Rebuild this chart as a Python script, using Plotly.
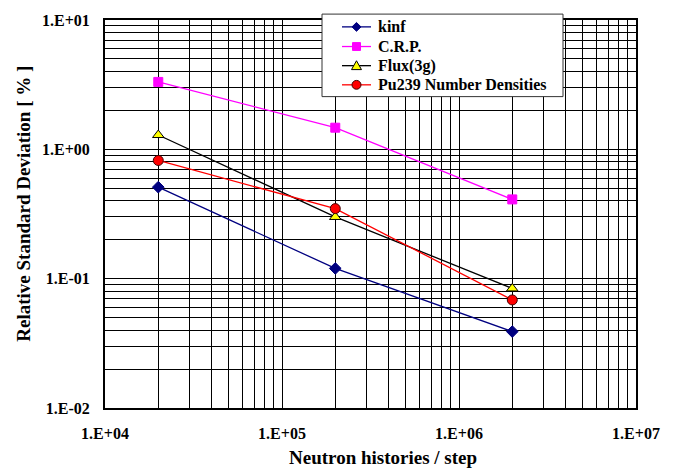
import plotly.graph_objects as go

# Neutron histories per step
histories = [2e4, 2e5, 2e6]

# Relative standard deviation [%] of each quantity
kinf = [0.51, 0.12, 0.039]
crp = [3.32, 1.47, 0.41]
flux_3g = [1.29, 0.30, 0.084]
pu239 = [0.82, 0.348, 0.0685]

series_names = ["kinf", "C.R.P.", "Flux(3g)", "Pu239 Number Densities"]

x_decades = [1e4, 1e5, 1e6, 1e7]
x_labels = ["1.E+04", "1.E+05", "1.E+06", "1.E+07"]
y_decades = [1e-2, 1e-1, 1e0, 1e1]
y_labels = ["1.E-02", "1.E-01", "1.E+00", "1.E+01"]

FONT = "Times New Roman, Liberation Serif, serif"

# plot area in pixels (figure is 675 x 474)
W, H = 675, 474
PL, PR, PT, PB = 105, 636, 13, 408


def px(x):
    return (x - PL) / (PR - PL)


def py(y):
    return (PB - y) / (PB - PT)


def log_grid(decades):
    vals, text = [], []
    for i, d in enumerate(decades):
        for m in range(1, 10):
            if i == len(decades) - 1 and m > 1:
                break
            vals.append(d * m)
            text.append("")
    return vals, text


xv, xt = log_grid(x_decades)
for d, lab in zip(x_decades, x_labels):
    xt[xv.index(d)] = lab
yv, yt = log_grid(y_decades)
for d, lab in zip(y_decades, y_labels):
    yt[yv.index(d)] = lab

styles = [
    dict(line="#000080", symbol="diamond", size=9, fill="#000080", edge="#000080"),
    dict(line="#FF00FF", symbol="square", size=9, fill="#FF00FF", edge="#FF00FF"),
    dict(line="#000000", symbol="triangle-up", size=10, fill="#FFFF00", edge="#000000"),
    dict(line="#FF0000", symbol="circle", size=10, fill="#FF0000", edge="#400000"),
]

fig = go.Figure()
for name, vals, st in zip(series_names, [kinf, crp, flux_3g, pu239], styles):
    fig.add_trace(go.Scatter(
        x=histories, y=vals, name=name, mode="lines+markers", showlegend=False,
        line=dict(color=st["line"], width=1.3),
        marker=dict(symbol=st["symbol"], size=st["size"], color=st["fill"],
                    line=dict(color=st["edge"], width=1)),
    ))

axis_common = dict(
    type="log", showgrid=True, gridcolor="#000000", gridwidth=1,
    showline=True, linecolor="#000000", linewidth=2, mirror=True,
    zeroline=False, ticks="",
    tickfont=dict(family=FONT, size=16, color="#000000", weight="bold"),
)
fig.update_xaxes(range=[4, 7], tickmode="array", tickvals=xv, ticktext=xt,
                 ticklabelstandoff=10, **axis_common)
fig.update_yaxes(range=[-2, 1], tickmode="array", tickvals=yv, ticktext=yt,
                 ticklabelstandoff=10, **axis_common)

fig.add_annotation(text="Neutron histories / step", xref="paper", yref="paper",
                   x=px(383), y=py(458), showarrow=False,
                   xanchor="center", yanchor="middle",
                   font=dict(family=FONT, size=19, color="#000000", weight="bold"))
fig.add_annotation(text="Relative Standard Deviation [ % ]", xref="paper", yref="paper",
                   x=px(24), y=py(200), showarrow=False,
                   textangle=-90, xanchor="center", yanchor="middle",
                   font=dict(family=FONT, size=19, color="#000000", weight="bold"))

# legend panel: framed box with a key line, key marker and label per series
shapes = [dict(type="rect", xref="paper", yref="paper", layer="above",
               x0=px(322), x1=px(563), y0=py(91), y1=py(7),
               fillcolor="#FFFFFF", line=dict(color="#333333", width=1))]
row_y = [20, 40, 59.5, 79]
kx0, kx1, kc = 342, 371, 356.5


def path(points):
    return "M " + " L ".join(f"{px(a):.5f},{py(b):.5f}" for a, b in points) + " Z"


for name, st, y in zip(series_names, styles, row_y):
    shapes.append(dict(type="line", xref="paper", yref="paper", layer="above",
                       x0=px(kx0), x1=px(kx1), y0=py(y), y1=py(y),
                       line=dict(color=st["line"], width=1.3)))
    if st["symbol"] == "diamond":
        pts = [(kc, y - 4.5), (kc + 4.5, y), (kc, y + 4.5), (kc - 4.5, y)]
        shapes.append(dict(type="path", xref="paper", yref="paper", layer="above",
                           path=path(pts), fillcolor=st["fill"],
                           line=dict(color=st["edge"], width=1)))
    elif st["symbol"] == "square":
        shapes.append(dict(type="rect", xref="paper", yref="paper", layer="above",
                           x0=px(kc - 4), x1=px(kc + 4), y0=py(y + 4), y1=py(y - 4),
                           fillcolor=st["fill"], line=dict(color=st["edge"], width=1)))
    elif st["symbol"] == "triangle-up":
        pts = [(kc, y - 5), (kc + 5, y + 4), (kc - 5, y + 4)]
        shapes.append(dict(type="path", xref="paper", yref="paper", layer="above",
                           path=path(pts), fillcolor=st["fill"],
                           line=dict(color=st["edge"], width=1)))
    else:
        shapes.append(dict(type="circle", xref="paper", yref="paper", layer="above",
                           x0=px(kc - 4.5), x1=px(kc + 4.5), y0=py(y + 4.5), y1=py(y - 4.5),
                           fillcolor=st["fill"], line=dict(color=st["edge"], width=1)))
    fig.add_annotation(text=name, xref="paper", yref="paper", x=px(376), y=py(y),
                       xanchor="left", yanchor="middle", showarrow=False,
                       font=dict(family=FONT, size=16, color="#000000", weight="bold"))

fig.update_layout(
    width=W, height=H, autosize=False,
    margin=dict(l=PL, r=W - PR, t=PT, b=H - PB),
    paper_bgcolor="#FFFFFF", plot_bgcolor="#FFFFFF",
    showlegend=False, shapes=shapes,
)

fig.write_html("out.html")
